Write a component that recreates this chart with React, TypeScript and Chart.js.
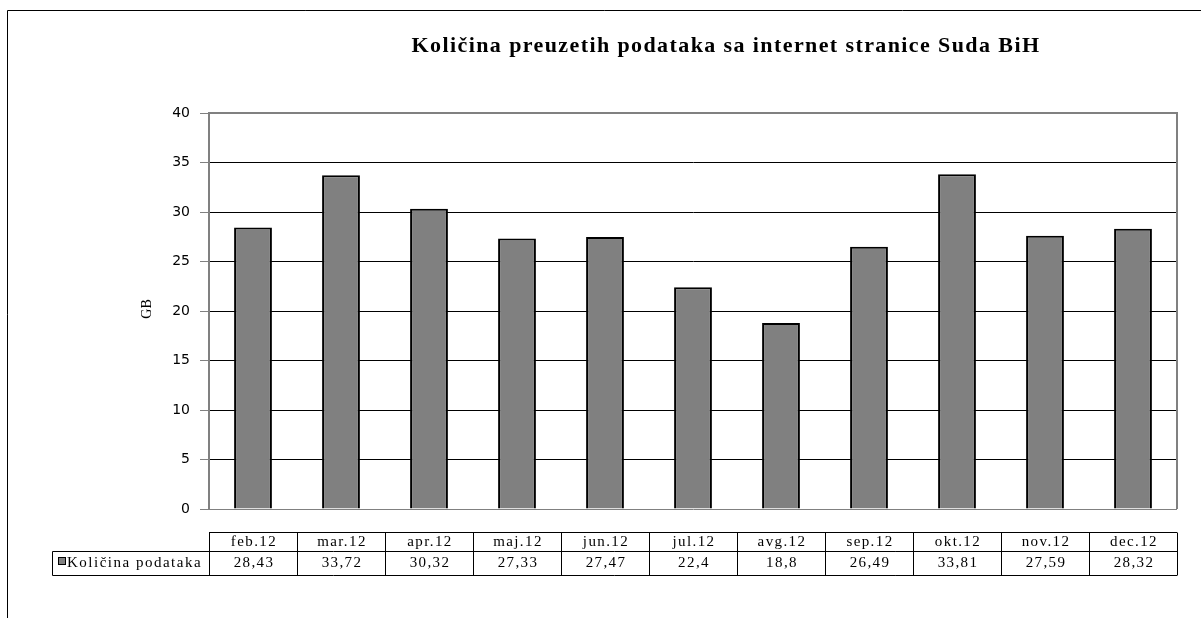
import React, { useEffect, useRef } from "react";
import { Chart, registerables } from "chart.js";

Chart.register(...registerables);

const TITLE = "Količina preuzetih podataka sa internet stranice Suda BiH";
const Y_LABEL = "GB";
const SERIES_NAME = "Količina podataka";
const categories = ["feb.12", "mar.12", "apr.12", "maj.12", "jun.12", "jul.12", "avg.12", "sep.12", "okt.12", "nov.12", "dec.12"];
const values = [28.43, 33.72, 30.32, 27.33, 27.47, 22.4, 18.8, 26.49, 33.81, 27.59, 28.32];
const valueLabels = ["28,43", "33,72", "30,32", "27,33", "27,47", "22,4", "18,8", "26,49", "33,81", "27,59", "28,32"];

const GRAY = "#808080";

const decorPlugin = {
  id: "decor",
  afterDraw(chart: any) {
    const ctx = chart.ctx as CanvasRenderingContext2D;
    const area = chart.chartArea;
    const xs = chart.scales.x;
    ctx.save();
    // outer frame
    ctx.strokeStyle = "#000";
    ctx.lineWidth = 1;
    ctx.beginPath();
    ctx.moveTo(7.5, 618);
    ctx.lineTo(7.5, 10.5);
    ctx.lineTo(1201, 10.5);
    ctx.stroke();

    // plot frame top & right
    ctx.strokeStyle = GRAY;
    ctx.lineWidth = 2;
    ctx.beginPath();
    ctx.moveTo(area.left, area.top);
    ctx.lineTo(area.right, area.top);
    ctx.lineTo(area.right, area.bottom);
    ctx.stroke();

    // title
    ctx.fillStyle = "#000";
    ctx.font = "bold 22px 'Liberation Serif'";
    (ctx as any).letterSpacing = "1.4px";
    ctx.textAlign = "center";
    ctx.textBaseline = "middle";
    ctx.fillText(TITLE, 726, 46);

    // y label
    (ctx as any).letterSpacing = "0px";
    ctx.font = "14px 'Liberation Serif'";
    ctx.save();
    ctx.translate(147, 309);
    ctx.rotate(-Math.PI / 2);
    ctx.fillText(Y_LABEL, 0, 0);
    ctx.restore();

    // data table
    const n = categories.length;
    const colW = (area.right - area.left) / n;
    const hTop = 532.5, hMid = 551.5, hBot = 575.5;
    const legLeft = 52.5;
    ctx.strokeStyle = "#000";
    ctx.lineWidth = 1;
    ctx.beginPath();
    ctx.moveTo(area.left, hTop);
    ctx.lineTo(area.right, hTop);
    ctx.moveTo(legLeft, hMid);
    ctx.lineTo(area.right, hMid);
    ctx.moveTo(legLeft, hBot);
    ctx.lineTo(area.right, hBot);
    ctx.moveTo(legLeft, hMid);
    ctx.lineTo(legLeft, hBot);
    for (let i = 0; i <= n; i++) {
      const x = Math.round(area.left + i * colW) + 0.5;
      ctx.moveTo(x, hTop);
      ctx.lineTo(x, hBot);
    }
    ctx.stroke();

    ctx.font = "15px 'Liberation Serif'";
    (ctx as any).letterSpacing = "1.4px";
    ctx.textAlign = "center";
    ctx.textBaseline = "middle";
    for (let i = 0; i < n; i++) {
      const cx = xs.getPixelForValue(i) + 1;
      ctx.fillText(categories[i], cx, 542);
      ctx.fillText(valueLabels[i], cx, 563);
    }
    // legend cell
    ctx.fillStyle = GRAY;
    ctx.fillRect(58.5, 557.5, 7, 7);
    ctx.strokeRect(58.5, 557.5, 7, 7);
    ctx.fillStyle = "#000";
    ctx.textAlign = "left";
    (ctx as any).letterSpacing = "1.5px";
    ctx.fillText(SERIES_NAME, 67, 563);
    ctx.restore();
  },
};

export default function App() {
  const ref = useRef<HTMLCanvasElement | null>(null);
  useEffect(() => {
    if (!ref.current) return;
    const chart = new Chart(ref.current, {
      type: "bar",
      data: {
        labels: categories,
        datasets: [
          {
            label: SERIES_NAME,
            data: values,
            backgroundColor: GRAY,
            borderColor: "#000",
            borderWidth: 2,
            barPercentage: 0.43,
            categoryPercentage: 1,
          },
        ],
      },
      options: {
        animation: false,
        responsive: false,
        devicePixelRatio: 1,
        layout: { padding: { top: 113, bottom: 109, left: 149, right: 24 } },
        plugins: { legend: { display: false }, title: { display: false }, tooltip: { enabled: false } },
        scales: {
          x: { display: false },
          y: {
            min: 0,
            max: 40,
            afterFit: (s: any) => {
              s.width = 60;
            },
            ticks: {
              stepSize: 5,
              color: "#000",
              padding: 10,
              font: { family: "'DejaVu Sans'", size: 14 },
            },
            grid: {
              color: (c: any) => (c.tick && (c.tick.value === 0 || c.tick.value === 40) ? GRAY : "#000"),
              tickColor: GRAY,
              tickLength: 9,
              lineWidth: 1,
            },
            border: { color: GRAY, width: 2 },
          },
        },
      },
      plugins: [decorPlugin],
    });
    return () => chart.destroy();
  }, []);
  return (
    <div style={{ position: "fixed", left: 0, top: 0, width: 1201, height: 618, background: "#fff" }}>
      <canvas ref={ref} width={1201} height={618} style={{ display: "block" }} />
    </div>
  );
}
